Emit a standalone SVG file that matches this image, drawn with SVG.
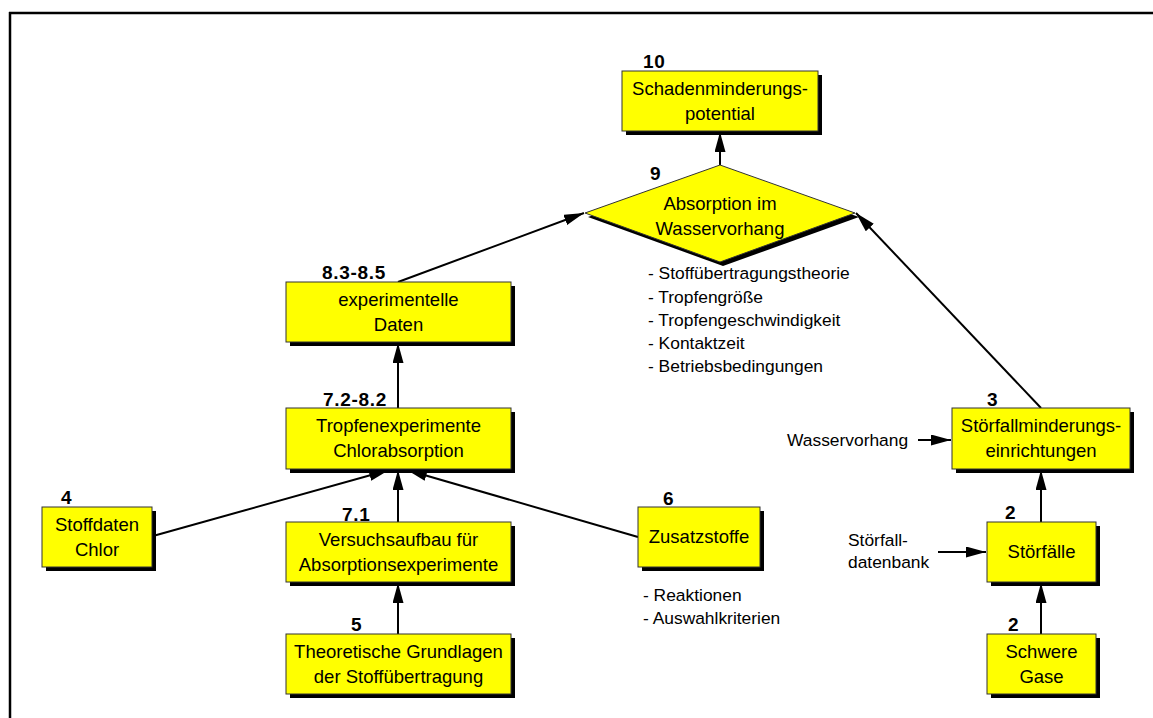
<svg xmlns="http://www.w3.org/2000/svg" width="1153" height="718" viewBox="0 0 1153 718">
<defs>
<style>
.box{fill:#FFFF00;stroke:#333;stroke-width:1}
.sh{fill:#000}
.t{font-family:"Liberation Sans",Arial,sans-serif;font-size:18.5px;fill:#000;text-anchor:middle}
.n{font-family:"Liberation Sans",Arial,sans-serif;font-size:19px;font-weight:bold;fill:#000;letter-spacing:0.7px}
.s{font-family:"Liberation Sans",Arial,sans-serif;font-size:17.4px;fill:#000}
.c{stroke:#000;stroke-width:2;fill:none;marker-end:url(#ah)}
</style>
<marker id="ah" markerUnits="userSpaceOnUse" markerWidth="22" markerHeight="12" refX="20" refY="5.5" orient="auto">
<path d="M0,0 L20,5.5 L0,11 z" fill="#000"/>
</marker>
</defs>
<rect width="1153" height="718" fill="#fff"/>
<g id="frame">
<line x1="9" y1="13" x2="1153" y2="13" stroke="#000" stroke-width="2.5"/>
<line x1="10" y1="12" x2="10" y2="718" stroke="#000" stroke-width="2.5"/>
</g>
<g id="connectors">
<line class="c" x1="720" y1="165" x2="720" y2="132"/>
<line class="c" x1="398" y1="282" x2="584" y2="213"/>
<line class="c" x1="1041" y1="408" x2="856" y2="213"/>
<line class="c" x1="398" y1="408" x2="398" y2="343"/>
<line class="c" x1="153" y1="536" x2="389" y2="470"/>
<line class="c" x1="398" y1="522" x2="398" y2="470"/>
<line class="c" x1="638" y1="537" x2="407" y2="470"/>
<line class="c" x1="398" y1="634" x2="398" y2="583"/>
<line class="c" x1="918" y1="440" x2="951" y2="440"/>
<line class="c" x1="1041" y1="522" x2="1041" y2="470"/>
<line class="c" x1="938" y1="552" x2="986" y2="552"/>
<line class="c" x1="1041" y1="634" x2="1041" y2="583"/>
</g>
<g id="node10">
<rect class="sh" x="626" y="75" width="196" height="60"/>
<rect class="box" x="622" y="71" width="196" height="60"/>
<text class="n" x="643" y="68">10</text>
<text class="t" x="720" y="94.5">Schadenminderungs-</text>
<text class="t" x="720" y="119.5">potential</text>
</g>
<g id="node9">
<polygon class="sh" points="723,169 859,217 723,266 588,217"/>
<polygon class="box" points="720,165 855,213 720,262 585,213"/>
<text class="n" x="650" y="180">9</text>
<text class="t" x="720" y="210">Absorption im</text>
<text class="t" x="720" y="235">Wasservorhang</text>
</g>
<g id="list9">
<text class="s" x="648" y="279">- Stoffübertragungstheorie</text>
<text class="s" x="648" y="302.5">- Tropfengröße</text>
<text class="s" x="648" y="326">- Tropfengeschwindigkeit</text>
<text class="s" x="648" y="349">- Kontaktzeit</text>
<text class="s" x="648" y="372">- Betriebsbedingungen</text>
</g>
<g id="node83">
<rect class="sh" x="290" y="286" width="225" height="60"/>
<rect class="box" x="286" y="282" width="225" height="60"/>
<text class="n" x="322" y="279">8.3-8.5</text>
<text class="t" x="398.5" y="305.5">experimentelle</text>
<text class="t" x="398.5" y="330.5">Daten</text>
</g>
<g id="node72">
<rect class="sh" x="290" y="412" width="225" height="61"/>
<rect class="box" x="286" y="408" width="225" height="61"/>
<text class="n" x="323" y="406">7.2-8.2</text>
<text class="t" x="398.5" y="431.5">Tropfenexperimente</text>
<text class="t" x="398.5" y="456.5">Chlorabsorption</text>
</g>
<g id="node71">
<text class="n" x="342" y="521">7.1</text>
<rect class="sh" x="290" y="526" width="225" height="60"/>
<rect class="box" x="286" y="522" width="225" height="60"/>
<text class="t" x="398.5" y="545.5">Versuchsaufbau für</text>
<text class="t" x="398.5" y="570.5">Absorptionsexperimente</text>
</g>
<g id="node5">
<rect class="sh" x="290" y="638" width="225" height="60"/>
<rect class="box" x="286" y="634" width="225" height="60"/>
<text class="n" x="351" y="631">5</text>
<text class="t" x="398.5" y="657.5">Theoretische Grundlagen</text>
<text class="t" x="398.5" y="682.5">der Stoffübertragung</text>
</g>
<g id="node4">
<rect class="sh" x="46" y="511" width="110" height="60"/>
<rect class="box" x="42" y="507" width="110" height="60"/>
<text class="n" x="61" y="504">4</text>
<text class="t" x="97" y="530.5">Stoffdaten</text>
<text class="t" x="97" y="555.5">Chlor</text>
</g>
<g id="node6">
<rect class="sh" x="642" y="511" width="122" height="60"/>
<rect class="box" x="638" y="507" width="122" height="60"/>
<text class="n" x="663" y="505">6</text>
<text class="t" x="699" y="543">Zusatzstoffe</text>
</g>
<g id="list6">
<text class="s" x="643" y="601">- Reaktionen</text>
<text class="s" x="643" y="624">- Auswahlkriterien</text>
</g>
<g id="node3">
<rect class="sh" x="956" y="412" width="178" height="61"/>
<rect class="box" x="952" y="408" width="178" height="61"/>
<text class="n" x="987" y="406">3</text>
<text class="t" x="1041" y="431.5">Störfallminderungs-</text>
<text class="t" x="1041" y="456.5">einrichtungen</text>
</g>
<g id="in3">
<text class="s" x="787" y="446">Wasservorhang</text>
</g>
<g id="node2a">
<rect class="sh" x="991" y="526" width="109" height="60"/>
<rect class="box" x="987" y="522" width="109" height="60"/>
<text class="n" x="1005" y="519">2</text>
<text class="t" x="1041.5" y="558">Störfälle</text>
</g>
<g id="in2">
<text class="s" x="848" y="546">Störfall-</text>
<text class="s" x="848" y="568">datenbank</text>
</g>
<g id="node2b">
<rect class="sh" x="991" y="638" width="109" height="60"/>
<rect class="box" x="987" y="634" width="109" height="60"/>
<text class="n" x="1008" y="631">2</text>
<text class="t" x="1041.5" y="657.5">Schwere</text>
<text class="t" x="1041.5" y="682.5">Gase</text>
</g>
</svg>
